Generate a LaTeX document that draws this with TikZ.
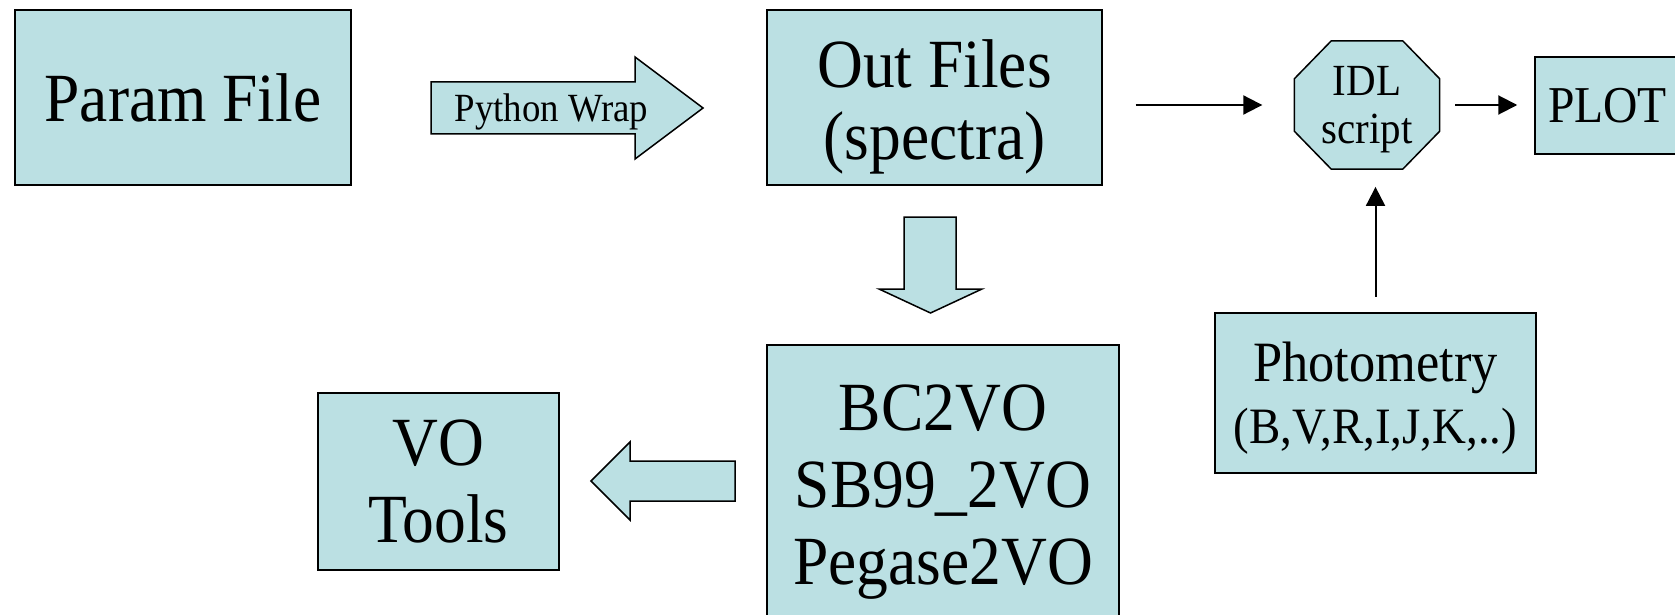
\documentclass[tikz,border=0pt]{standalone}
\usepackage{fontspec}
\setmainfont[FakeStretch=0.92]{Liberation Serif}
\usetikzlibrary{arrows.meta,calc}
\pgfdeclarelayer{background}
\pgfsetlayers{background,main}
\definecolor{boxfill}{RGB}{187,224,227}
\begin{document}
\begin{tikzpicture}[x=1pt,y=-1pt,
  box/.style={draw=black, line width=1.5pt, fill=boxfill, inner sep=0pt, align=center,
              font=\fontsize{69}{77}\selectfont},
  plain/.style={inner sep=0pt, align=center},
  conn/.style={line width=2pt, -{Triangle[length=19pt,width=19pt]}},
  blockarrow/.style={draw=black, line width=1.5pt, fill=boxfill, line join=miter}]
\useasboundingbox (0,0) rectangle (1675,615);
\clip (0,0) rectangle (1675,615);

% boxes
\node[box, minimum width=336pt, minimum height=175pt] (param) at (183,97.5) {Param File};
\node[box, font=\fontsize{69}{72}\selectfont, minimum width=335pt, minimum height=175pt] (out) at (934.5,97.5) {\rule{0pt}{67.6pt}Out Files\\(spectra)};
\node[plain, font=\fontsize{44.5}{48}\selectfont, minimum width=145pt, minimum height=128pt] (idl) at (1367,105) {\rule{0pt}{37.5pt}IDL\\script};
\begin{pgfonlayer}{background}
\draw[blockarrow] ($(idl.north west)+(37,0)$) -- ($(idl.north east)+(-37,0)$)
  -- ($(idl.north east)+(0,38)$) -- ($(idl.south east)+(0,-38)$)
  -- ($(idl.south east)+(-37,0)$) -- ($(idl.south west)+(37,0)$)
  -- ($(idl.south west)+(0,-38)$) -- ($(idl.north west)+(0,38)$) -- cycle;
\end{pgfonlayer}
\node[box, font=\fontsize{51.7}{60}\selectfont, minimum width=145pt, minimum height=97pt] (plot) at (1607.5,105.5) {PLOT};
\node[box, font=\fontsize{57}{62}\selectfont, minimum width=321pt, minimum height=160pt] (phot) at (1375.5,393) {\rule{0pt}{49pt}Photometry\\\fontsize{51}{62}\selectfont(B,V,R,I,J,K,..)};
\node[box, minimum width=352pt, minimum height=294pt] (conv) at (943,492) {BC2VO\\SB99\_2VO\\Pegase2VO};
\node[box, minimum width=241pt, minimum height=177pt] (vo) at (438.5,481.5) {VO\\Tools};

% block arrows
\draw[blockarrow] (431,82) -- (635,82) -- (635,57) -- (703,108) -- (635,159) -- (635,134) -- (431,134) -- cycle;
\node[plain, font=\fontsize{40}{48}\selectfont, anchor=base] (pylabel) at (551.5,122) {Python Wrap};
\draw[blockarrow] (904,217) -- (956,217) -- (956,289) -- (982,289) -- (930.5,313) -- (879,289) -- (904,289) -- cycle;
\draw[blockarrow] (735,461) -- (735,501) -- (630,501) -- (630,520) -- (591,481) -- (630,442) -- (630,461) -- cycle;

% connectors
\draw[conn, shorten <=32.8pt, shorten >=32pt] (out.east |- idl.west) -- (idl.west);
\draw[conn, shorten <=15.5pt, shorten >=17pt] (idl.east) -- (plot.west |- idl.east);
\draw[conn, shorten <=15.3pt, shorten >=17.7pt] (phot.north) -- (idl.south -| phot.north);
\end{tikzpicture}
\end{document}
